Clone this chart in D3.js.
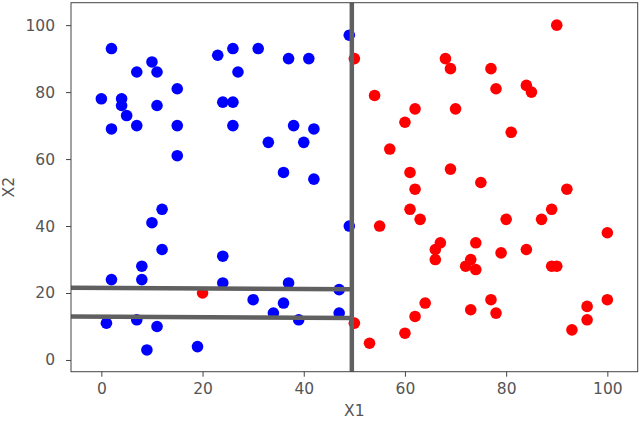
<!DOCTYPE html>
<html>
<head>
<meta charset="utf-8">
<script src="https://cdn.jsdelivr.net/npm/d3@7"></script>
<style>
  body { margin: 0; background: #fff; }
  text { font-family: "DejaVu Sans", sans-serif; }
</style>
</head>
<body>
<div id="chart"></div>
<script>
// class 0 (blue) points
const blueX = [2, 10, 7, 11, 15, 0, 4, 4, 11, 5, 2, 7, 15, 15, 23, 26, 31, 27, 24, 26, 26, 37, 41, 38, 42, 33, 40, 36, 42, 49,
               12, 10, 12, 8, 2, 8, 49, 24, 24, 37, 47, 30, 36, 34, 47, 1, 7, 11, 39, 9, 19];
const blueY = [93, 89, 86, 86, 81, 78, 78, 76, 76, 73, 69, 70, 70, 61, 91, 93, 93, 86, 77, 77, 70, 90, 90, 70, 69, 65, 65, 56, 54, 97,
               45, 41, 33, 28, 24, 24, 40, 31, 23, 23, 21, 18, 17, 14, 14, 11, 12, 10, 12, 3, 4];

// class 1 (red) points
const redX = [50, 20, 50, 90, 68, 69, 77, 78, 84, 85, 54, 62, 70, 60, 81, 57, 61, 69, 75, 62, 92,
              61, 63, 55, 89, 87, 80, 100, 67, 74, 84, 66, 79, 66, 73, 72, 74, 89, 90,
              77, 100, 64, 96, 73, 78, 62, 96, 93, 60, 53];
const redY = [90, 20, 11, 100, 90, 87, 87, 81, 82, 80, 79, 75, 75, 71, 68, 63, 56, 57, 53, 51, 51,
              45, 42, 40, 45, 42, 42, 38, 35, 35, 33, 33, 32, 30, 30, 28, 27, 28, 28,
              18, 18, 17, 16, 15, 14, 13, 12, 9, 8, 5];

// split lines: [x1, y1, x2, y2]
const splits = [
  [49.5, -3.5, 49.5, 106.7],
  [-6, 21.6, 49.5, 21.1],
  [-6, 13.0, 49.5, 12.5]
];

const xTicks = [0, 20, 40, 60, 80, 100];
const yTicks = [0, 20, 40, 60, 80, 100];

const width = 640, height = 421;
const margin = {top: 2.7, right: 2.3, bottom: 49.3, left: 71};
const iw = width - margin.left - margin.right;
const ih = height - margin.top - margin.bottom;

const svg = d3.select("#chart").append("svg")
  .attr("width", width)
  .attr("height", height);

const g = svg.append("g")
  .attr("transform", "translate(" + margin.left + "," + margin.top + ")");

const x = d3.scaleLinear().domain([-6, 106]).range([0, iw]);
const y = d3.scaleLinear().domain([-3.5, 106.7]).range([ih, 0]);

const blue = blueX.map((v, i) => [v, blueY[i]]);
const red = redX.map((v, i) => [v, redY[i]]);

g.append("g").selectAll("circle")
  .data(blue)
  .enter().append("circle")
  .attr("cx", d => x(d[0]))
  .attr("cy", d => y(d[1]))
  .attr("r", 5.8)
  .attr("fill", "#0000ff");

g.append("g").selectAll("circle")
  .data(red)
  .enter().append("circle")
  .attr("cx", d => x(d[0]))
  .attr("cy", d => y(d[1]))
  .attr("r", 5.8)
  .attr("fill", "#ff0000");

g.append("g").selectAll("line")
  .data(splits)
  .enter().append("line")
  .attr("x1", d => x(d[0]))
  .attr("y1", d => y(d[1]))
  .attr("x2", d => x(d[2]))
  .attr("y2", d => y(d[3]))
  .attr("stroke", "#606060")
  .attr("stroke-width", 4.5);

// frame
g.append("rect")
  .attr("width", iw)
  .attr("height", ih)
  .attr("fill", "none")
  .attr("stroke", "#444")
  .attr("stroke-width", 1);

const xAxis = g.append("g")
  .attr("transform", "translate(0," + ih + ")")
  .call(d3.axisBottom(x).tickValues(xTicks).tickSize(5).tickPadding(6));
const yAxis = g.append("g")
  .call(d3.axisLeft(y).tickValues(yTicks).tickSize(5).tickPadding(11));

[xAxis, yAxis].forEach(a => {
  a.select(".domain").remove();
  a.selectAll(".tick line").attr("stroke", "#444");
  a.selectAll(".tick text")
    .attr("fill", "#555")
    .style("font-size", "15.5px")
    .style("font-family", "'DejaVu Sans', sans-serif");
});

svg.append("text")
  .attr("x", margin.left + iw / 2)
  .attr("y", 416)
  .attr("text-anchor", "middle")
  .attr("fill", "#555")
  .style("font-size", "15.5px")
  .text("X1");

svg.append("text")
  .attr("transform", "translate(14," + (margin.top + ih / 2) + ") rotate(-90)")
  .attr("text-anchor", "middle")
  .attr("fill", "#555")
  .style("font-size", "15.5px")
  .text("X2");
</script>
</body>
</html>
